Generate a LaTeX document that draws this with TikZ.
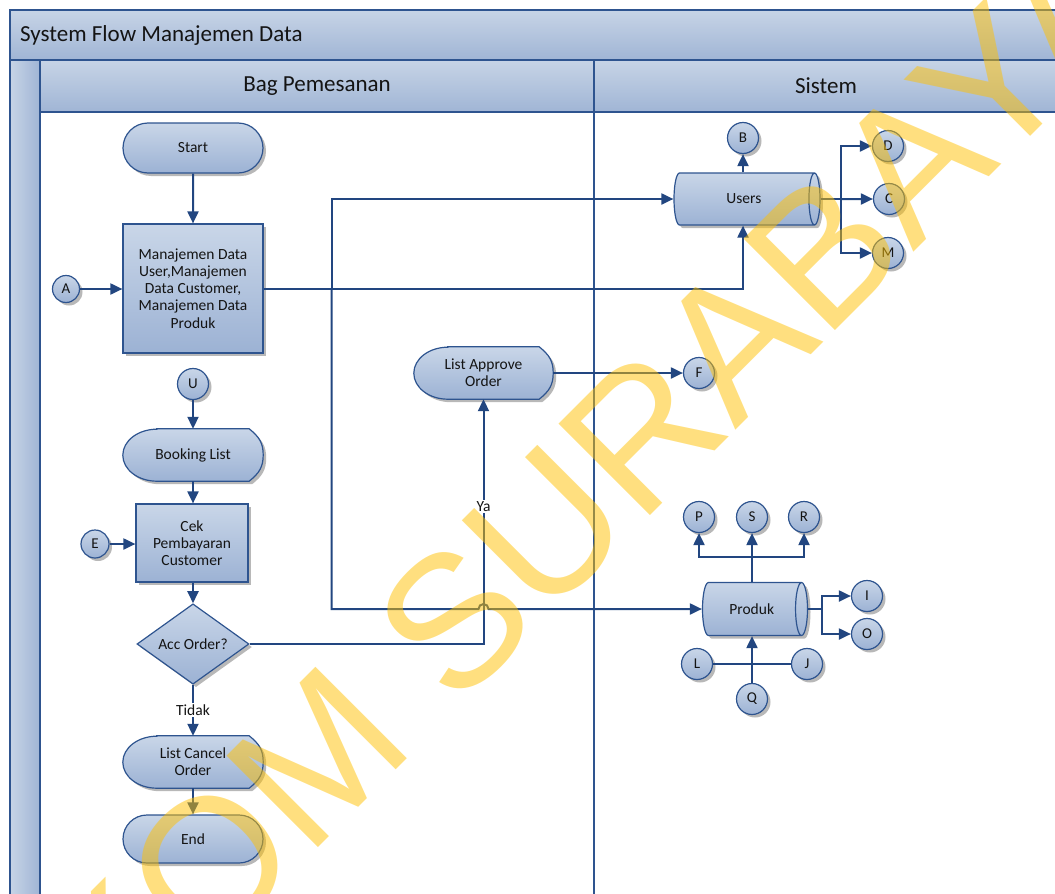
\documentclass[tikz,border=0pt]{standalone}
\usepackage{fontspec}
\setmainfont{Carlito}
\newfontfamily\stampfont{Liberation Sans}
\usetikzlibrary{shapes.geometric,shapes.misc,arrows.meta,calc,shadows}

\definecolor{edge}{RGB}{46,84,143}
\definecolor{wire}{RGB}{34,70,128}
\definecolor{shadeTop}{RGB}{201,214,232}
\definecolor{shadeBot}{RGB}{156,178,212}
\definecolor{bandTop}{RGB}{199,212,230}
\definecolor{bandBot}{RGB}{160,181,213}
\definecolor{stampcol}{RGB}{255,192,0}
\definecolor{ink}{RGB}{20,20,20}

\newcommand\shapetext{\fontsize{15.5}{17.2}\selectfont}
\newcommand\circtext{\fontsize{15}{16}\selectfont}
\newcommand\headtext{\fontsize{23}{26}\selectfont}

\pgfdeclarelayer{frame}
\pgfdeclarelayer{back}
\pgfsetlayers{frame,back,main}

\tikzset{
  x=1pt, y=-1pt,
  shaded/.style={draw=edge, line width=1.2pt, top color=shadeTop, bottom color=shadeBot,
    drop shadow={shadow xshift=3pt, shadow yshift=-3pt, fill=black, opacity=0.28}},
  base/.style={shaded, font=\shapetext, text=ink, align=center, inner sep=0pt},
  terminal/.style={base, rounded rectangle, minimum width=140pt, minimum height=50pt},
  procbox/.style={base, rectangle},
  decision/.style={base, diamond, minimum width=112pt, minimum height=75pt},
  % a horizontal cylinder: minimum height runs along its axis
  store/.style={base, cylinder, shape border rotate=0, aspect=1.1, anchor=shape center},
  conn/.style={base, circle, font=\circtext, minimum size=31pt},
  disp/.style={font=\shapetext, text=ink, align=center, inner sep=0pt,
    minimum width=140pt, minimum height=52pt},
  band/.style={draw=edge, line width=1.5pt, top color=bandTop, bottom color=bandBot},
  sideband/.style={draw=edge, line width=1.5pt, left color=bandTop, right color=bandBot},
  frameline/.style={draw=edge, line width=1.5pt},
  wireline/.style={draw=wire, line width=2pt},
  flow/.style={wireline, -{Triangle[length=12pt,width=11pt]}},
  lbl/.style={fill=white, inner sep=1.5pt, font=\shapetext, text=ink},
  heading/.style={font=\headtext, text=ink, inner sep=0pt},
  stamp/.style={font={\stampfont\fontsize{188}{188}\selectfont}, text=stampcol,
    text opacity=0.5, inner sep=0pt, anchor=base, rotate=45}
}

% outline of a "display" symbol around a named node
\newcommand\displayoutline[1]{%
  \begin{pgfonlayer}{back}
  \path[shaded] ($(#1.north west)+(34,0)$) -- ($(#1.north east)+(-14,0)$)
    .. controls ($(#1.north east)+(-4,8)$) and ($(#1.east)+(0,-12)$) .. (#1.east)
    .. controls ($(#1.east)+(0,12)$) and ($(#1.south east)+(-4,-8)$) .. ($(#1.south east)+(-14,0)$)
    -- ($(#1.south west)+(34,0)$)
    arc[start angle=270, end angle=90, x radius=34pt, y radius=26pt] -- cycle;
  \end{pgfonlayer}}

\begin{document}
\begin{tikzpicture}
\useasboundingbox (0,0) rectangle (1055,894);

% swimlane pool
\begin{pgfonlayer}{frame}
  \path[band] (10,10) rectangle (1075,60);
  \path[sideband] (10,60) rectangle (40,910);
  \path[band] (40,60) rectangle (1075,112);
  \draw[frameline] (40,112) -- (40,910);
  \draw[frameline] (594,60) -- (594,910);
\end{pgfonlayer}
\node[heading, anchor=west] (title) at (20,35) {System Flow Manajemen Data};
\node[heading] (laneA) at (317,86) {Bag Pemesanan};
\node[heading] (laneB) at (826,86) {Sistem};

% left lane
\node[terminal] (start) at (193,148) {Start};
\node[procbox, minimum width=140pt, minimum height=129pt] (proc) at (193,288.5)
  {Manajemen Data\\User,Manajemen\\Data Customer,\\Manajemen Data\\Produk};
\node[conn, minimum size=27pt] (A) at (66,289) {A};
\node[conn] (U) at (193,384) {U};
\node[disp] (book) at (193,455) {Booking List};
\displayoutline{book}
\node[procbox, minimum width=112pt, minimum height=78pt] (cek) at (192,543)
  {Cek\\Pembayaran\\Customer};
\node[conn, minimum size=28pt] (E) at (95,544) {E};
\node[decision] (acc) at (193,644) {Acc Order?};
\node[disp] (cancel) at (193,762) {List Cancel\\Order};
\displayoutline{cancel}
\node[terminal, minimum height=48pt] (finish) at (193,839) {End};
\node[disp, minimum width=139pt] (approve) at (483.5,373) {List Approve\\Order};
\displayoutline{approve}

% system lane
\node[conn] (F) at (699,373) {F};
\node[store, minimum height=146pt, minimum width=52pt] (users) at (747,199) {Users};
\node[conn] (B) at (743,138) {B};
\node[conn] (D) at (888,146) {D};
\node[conn] (C) at (889,199) {C};
\node[conn] (M) at (888,253) {M};
\node[store, minimum height=105pt, minimum width=53pt] (produk) at (755,609) {Produk};
\node[conn] (P) at (699,517) {P};
\node[conn] (S) at (752,517) {S};
\node[conn] (R) at (804,517) {R};
\node[conn] (I) at (867,596) {I};
\node[conn] (O) at (867,634) {O};
\node[conn] (L) at (697,664) {L};
\node[conn] (J) at (807,664) {J};
\node[conn] (Q) at (752,699) {Q};

% connectors, left lane
\draw[flow] (start) -- (proc);
\draw[flow] (A) -- (A -| proc.west);
\draw[flow] (U) -- (book);
\draw[flow] (book) -- (book |- cek.north);
\draw[flow] (E) -- (E -| cek.west);
\draw[flow] (cek.south -| acc) -- (acc);
\draw[flow] (acc) -- (cancel) node[lbl, midway] {Tidak};
\draw[flow] (cancel) -- (finish);
\draw[flow] (acc.east) -| (approve.south) node[lbl, pos=0.78] {Ya};
\draw[flow] (approve.east) -- (F);

% connectors from the data management step
\coordinate (split) at ($(proc.east)+(68,0)$);
\draw[flow] (proc.east) -| (users.south -| B);
\draw[flow] (proc.east) -- (split) |- (users.west);
\draw[flow] (split) |- ($(approve.south |- produk.west)+(-5,0)$)
  arc[start angle=180, end angle=0, radius=5pt] -- (produk.west);

% connectors, system lane
\draw[flow] (users.north -| B) -- (B);
\draw[wireline] (users.east) -- ++(20,0) coordinate (ufork);
\draw[flow] (ufork) |- (D.west);
\draw[flow] (ufork) -- (C.west);
\draw[flow] (ufork) |- (M.west);

\draw[flow] (produk.north -| S) -- (S);
\coordinate (pfork) at ($(produk.north -| S)+(0,-25)$);
\draw[flow] (pfork) -| (P.south);
\draw[flow] (pfork) -| (R.south);
\draw[wireline] (produk.east) -- ++(14,0) coordinate (pside);
\draw[flow] (pside) |- (I.west);
\draw[flow] (pside) |- (O.west);
\draw[wireline] (L) -- (J);
\draw[flow] (Q) -- (produk.south -| Q);

% watermark lettering
\node[stamp] (mark) at (534,632) {STIKOM SURABAYA};
\end{tikzpicture}
\end{document}
